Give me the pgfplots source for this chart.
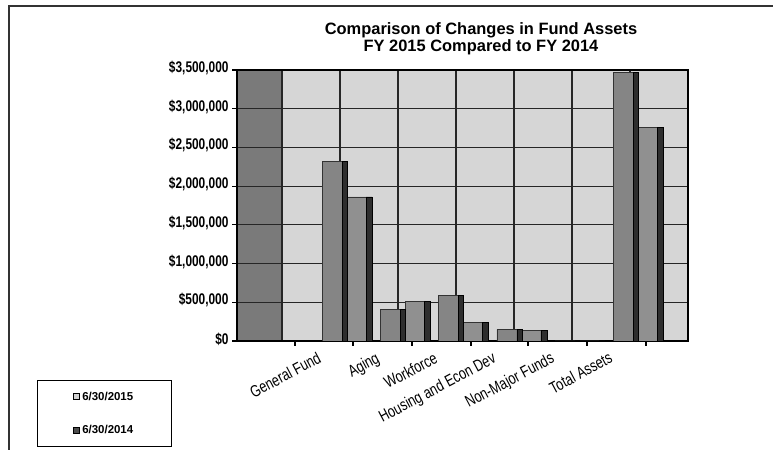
\documentclass[border=0pt]{standalone}
\usepackage{pgfplots}
\pgfplotsset{compat=1.18}
\usepackage{fontspec}
\setmainfont{Liberation Sans}
\newfontfamily\narrowfont{Liberation Sans}[FakeStretch=0.77]
\definecolor{wall}{HTML}{D6D6D6}
\definecolor{sidewall}{HTML}{7A7A7A}
\definecolor{faceA}{HTML}{858585}
\definecolor{faceB}{HTML}{909090}
\definecolor{sidedark}{HTML}{2E2E2E}
\begin{document}
\begin{tikzpicture}[x=1bp,y=1bp]
\path[use as bounding box] (0,0) rectangle (773,450);
\draw[line width=1.2bp, black!80] (9,0) -- (9,444) -- (773,444);
\node[font=\fontsize{16.5}{17}\selectfont\bfseries, align=center] at (481,411) {Comparison of Changes in Fund Assets\\FY 2015 Compared to FY 2014};
\fill[wall] (237,109) rectangle (688,380);
\fill[sidewall] (237,109) rectangle (282,380);
\begin{axis}[
  at={(237bp,109bp)}, anchor=south west,
  width=451bp, height=271bp, scale only axis,
  xmin=-1.887, xmax=5.849, ymin=0, ymax=3500000,
  axis line style={black, line width=1.1bp},
  tick align=outside, tick pos=left,
  major tick length=5bp,
  ytick={0,500000,...,3500000},
  ymajorgrids,
  major grid style={black!85, line width=1.1bp},
  minor grid style={black!85, line width=1.1bp},
  minor xtick={-1.115,-0.12,0.875,1.87,2.864,3.859,4.854},
  xminorgrids,
  minor tick length=0pt,
  scaled y ticks=false,
  yticklabel={\$\pgfmathprintnumber[assume math mode=true,fixed,precision=0,1000 sep={,}]{\tick}},
  yticklabel style={font=\narrowfont\fontsize{15.5}{16}\selectfont\bfseries, yshift=2bp},
  xtick={0,1,2,3,4,5},
  xticklabels={General Fund, Aging, Workforce, Housing and Econ Dev, Non-Major Funds, Total Assets},
  xtick style={draw=none},
  xticklabel style={font=\narrowfont\fontsize{16.5}{17}\selectfont, rotate=28, anchor=north east, xshift=-26bp, yshift=13bp},
  extra x ticks={-0.892,0.103,1.115,2.127,3.105,4.117,5.129},
  extra x tick labels={},
  extra x tick style={xtick style={draw=black, line width=1.1bp}, grid=none},
  ytick style={black, line width=1.1bp},
  legend style={at={(axis description cs:-0.4435,-0.391)}, anchor=south west,
    draw=black, line width=1bp, fill=white,
    font=\fontsize{11.5}{12}\selectfont\bfseries,
    inner xsep=36bp, inner ysep=9bp, row sep=20bp},
  legend cell align=left,
]
% 6/30/2015 front faces
\addplot[ybar, bar width=20bp, bar shift=-15bp, fill=faceA, draw=black!80, line width=0.5bp,
  legend image code/.code={\draw[black, line width=0.8bp, fill=gray!35] (0bp,-3bp) rectangle (6bp,3bp);}]
  coordinates {(0,2320000) (1,410000) (2,585000) (3,150000) (4,0) (5,3465000)};
\addlegendentry{6/30/2015}
% 6/30/2014 front faces
\addplot[ybar, bar width=19bp, bar shift=9.5bp, fill=faceB, draw=black!80, line width=0.5bp,
  legend image code/.code={\draw[black, line width=0.8bp, fill=black!70] (0bp,-3bp) rectangle (6bp,3bp);}]
  coordinates {(0,1860000) (1,510000) (2,245000) (3,140000) (4,0) (5,2755000)};
\addlegendentry{6/30/2014}
% side faces
\addplot[ybar, forget plot, bar width=5bp, bar shift=-2.5bp, fill=sidedark, draw=black, line width=0.5bp]
  coordinates {(0,2320000) (1,410000) (2,585000) (3,150000) (4,0) (5,3465000)};
\addplot[ybar, forget plot, bar width=6bp, bar shift=22bp, fill=sidedark, draw=black, line width=0.5bp]
  coordinates {(0,1860000) (1,510000) (2,245000) (3,140000) (4,0) (5,2755000)};
\end{axis}
\end{tikzpicture}
\end{document}
